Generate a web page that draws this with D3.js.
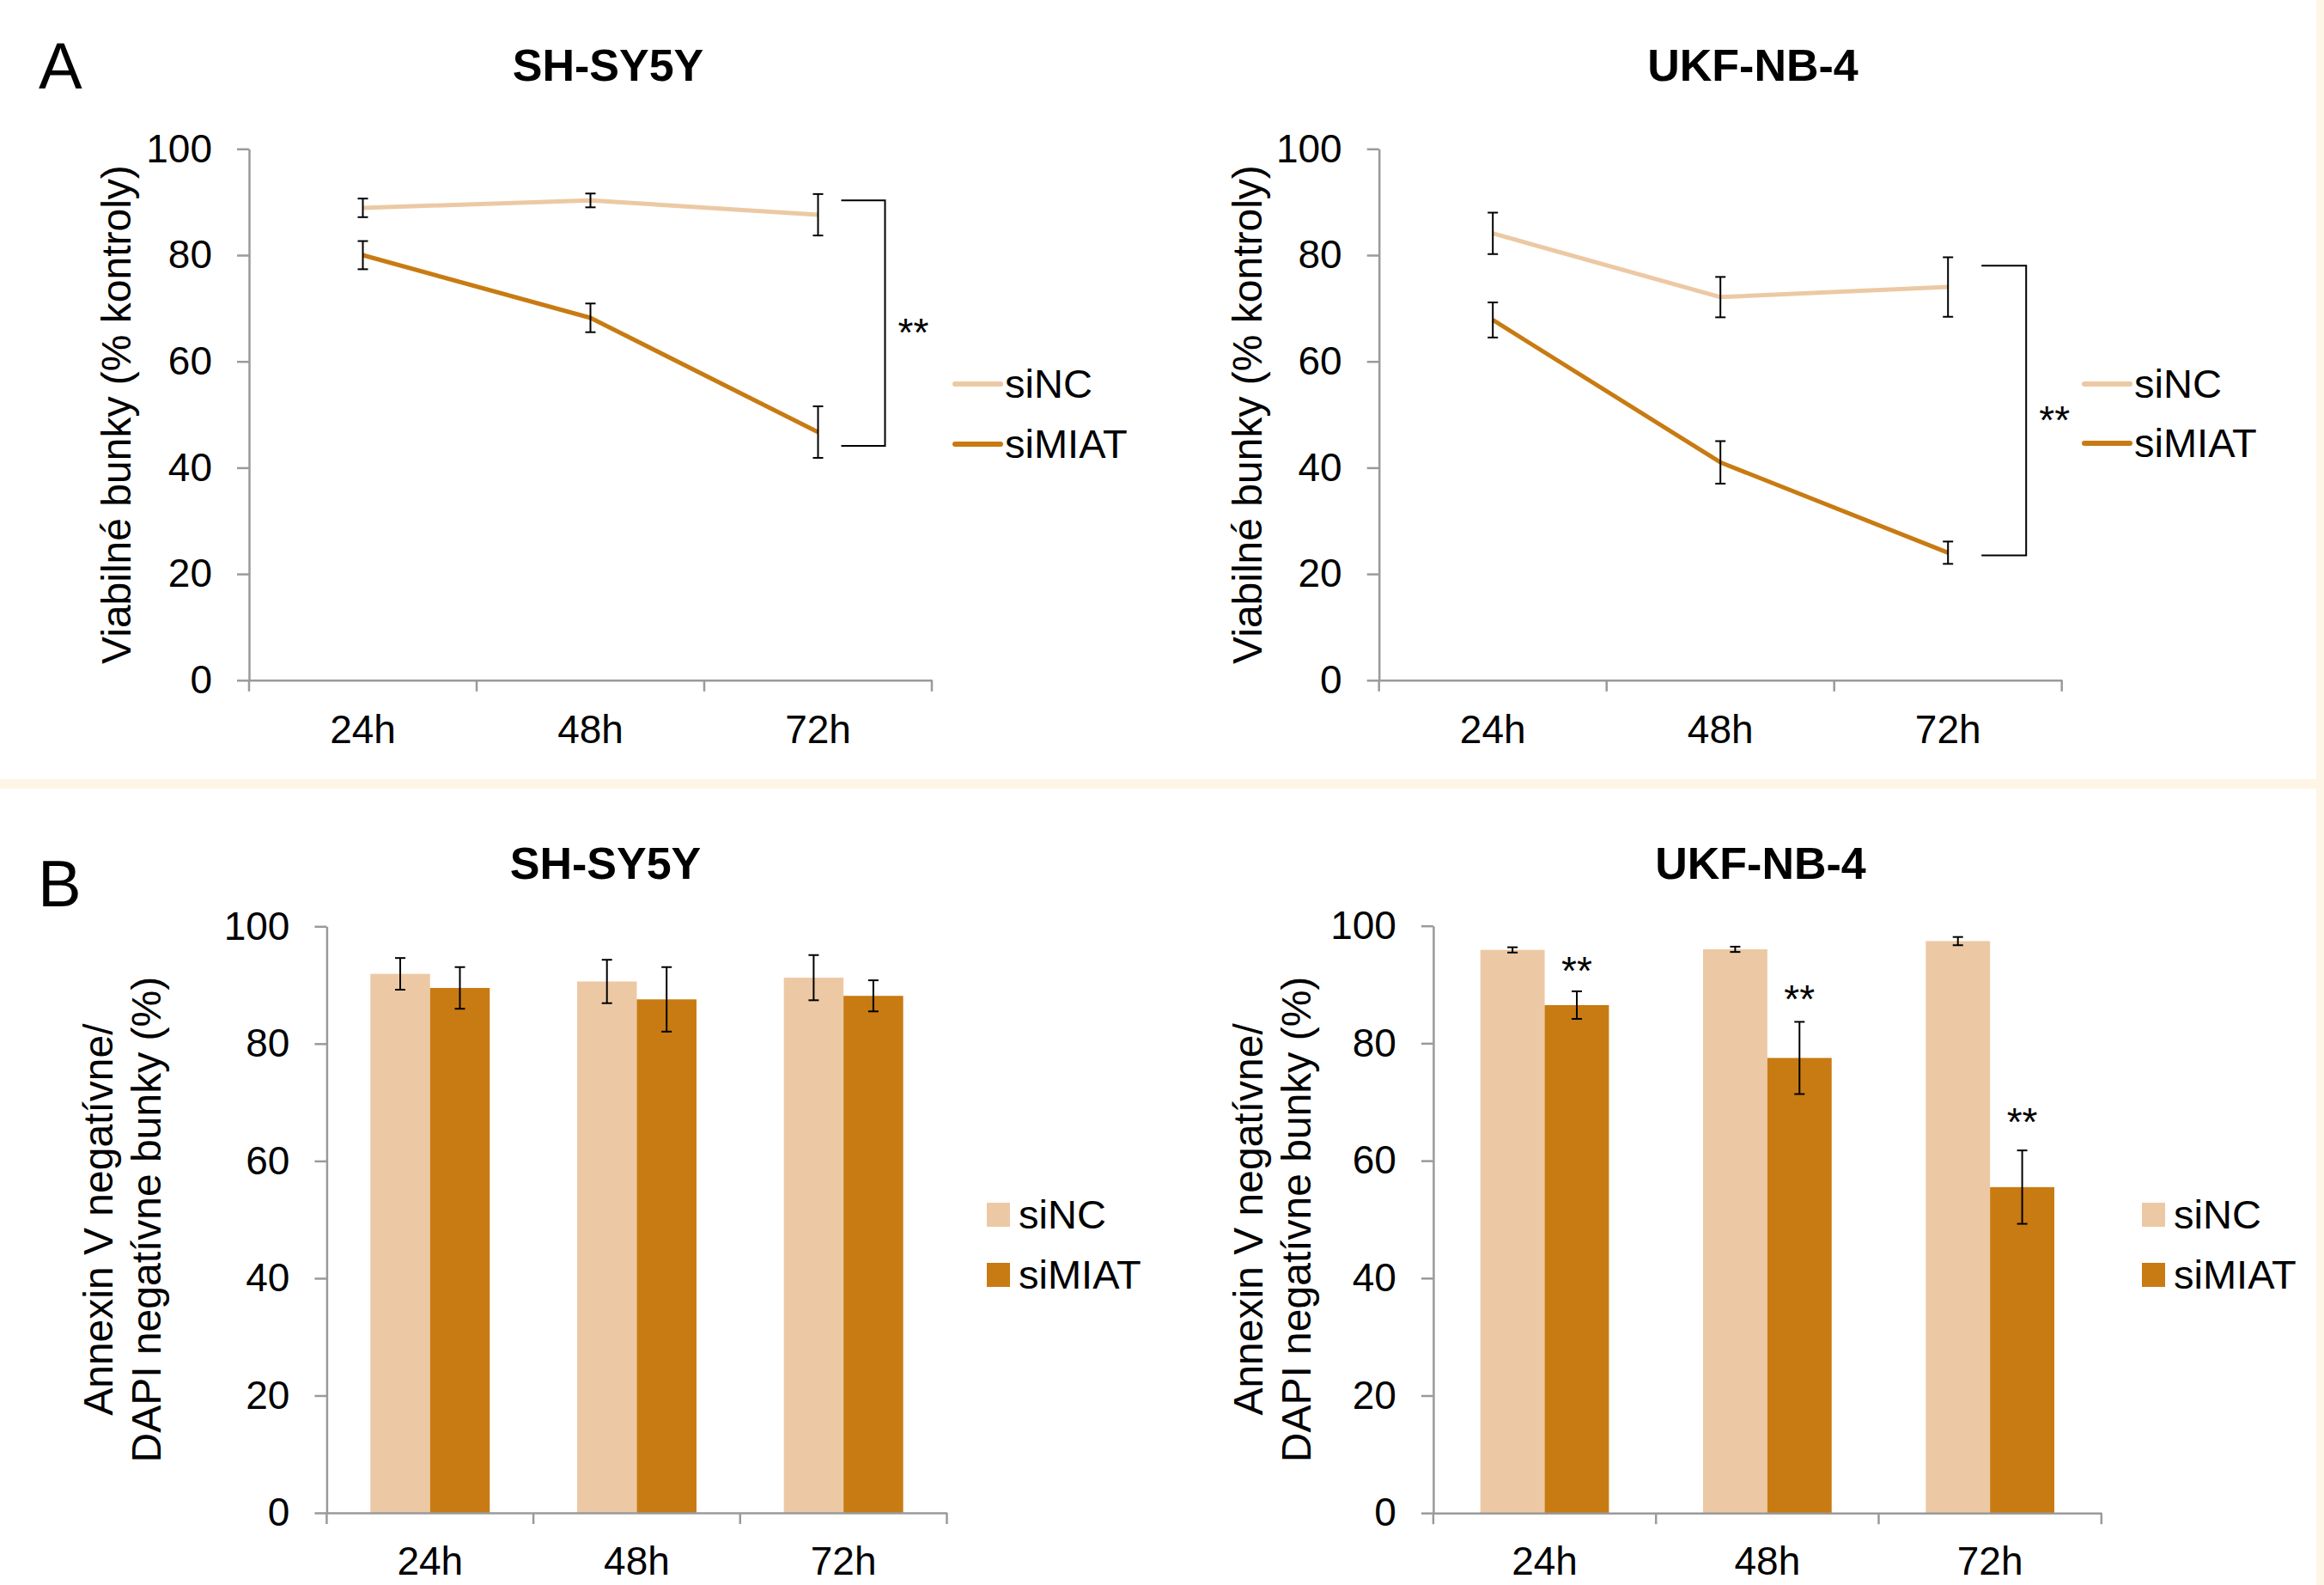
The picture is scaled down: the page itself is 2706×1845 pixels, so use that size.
<!DOCTYPE html>
<html lang="en">
<head>
<meta charset="utf-8">
<title>siMIAT viability</title>
<script src="https://cdn.jsdelivr.net/npm/d3@7"></script>
<style>
  body { margin: 0; background: #fff; }
  svg text { font-family: "Liberation Sans", Arial, sans-serif; fill: #000; }
</style>
</head>
<body>
<script>

// categories and series
var timePoints = ["24h", "48h", "72h"];
var seriesNames = ["siNC", "siMIAT"];
var yTicks = [0, 20, 40, 60, 80, 100];

// A - viability (% of control)
var viabShNC = [88.9, 90.3, 87.6];
var viabShNCErr = [1.75, 1.3, 3.9];
var viabShMIAT = [80.0, 68.2, 46.7];
var viabShMIATErr = [2.65, 2.7, 4.85];

var viabUkfNC = [84.1, 72.1, 74.0];
var viabUkfNCErr = [3.9, 3.8, 5.6];
var viabUkfMIAT = [67.8, 41.0, 24.0];
var viabUkfMIATErr = [3.3, 4.0, 2.1];

// significance brackets (top / bottom value)
var bracketSh = [90.3, 44.1];
var bracketUkf = [78.0, 23.5];

// B - Annexin V- / DAPI- cells (%)
var annShNC = [91.9, 90.6, 91.25];
var annShNCErr = [2.7, 3.7, 3.85];
var annShMIAT = [89.5, 87.55, 88.15];
var annShMIATErr = [3.55, 5.5, 2.65];

var annUkfNC = [95.9, 96.0, 97.4];
var annUkfNCErr = [0.45, 0.45, 0.7];
var annUkfMIAT = [86.5, 77.5, 55.5];
var annUkfMIATErr = [2.35, 6.15, 6.25];
var annUkfStars = [94.0, 89.2, 68.2];

var colors = { siNC: "#ecc9a4", siMIAT: "#c87b12" };
var axisGray = "#9a9a9a";

var w = 2706, h = 1845;

var svg = d3.select("body").append("svg")
  .attr("width", w)
  .attr("height", h);

svg.append("rect").attr("width", w).attr("height", h).attr("fill", "#fff");
// cream separators of the original figure
svg.append("rect").attr("x", 0).attr("y", 907).attr("width", w).attr("height", 11).attr("fill", "#fdf5e6");
svg.append("rect").attr("x", 2697).attr("y", 0).attr("width", 9).attr("height", h).attr("fill", "#fdf5e6");

// panel letters
svg.append("text").attr("x", 45).attr("y", 103).attr("font-size", "76px").text("A");
svg.append("text").attr("x", 44).attr("y", 1055).attr("font-size", "76px").text("B");

function drawAxes(p, y, x, labelPad) {
  var gy = svg.append("g")
    .attr("transform", "translate(" + p.x0 + ",0)")
    .call(d3.axisLeft(y).tickValues(yTicks).tickSize(14).tickPadding(29).tickSizeOuter(0));
  var gx = svg.append("g")
    .attr("transform", "translate(0," + p.yBottom + ")")
    .call(d3.axisBottom(x).tickSize(0).tickPadding(labelPad).tickSizeOuter(0));

  [gy, gx].forEach(function(g) {
    g.select(".domain").attr("stroke", axisGray).attr("stroke-width", 2.5);
    g.selectAll(".tick line").attr("stroke", axisGray).attr("stroke-width", 2.5);
    g.selectAll("text").attr("font-size", "46px").attr("font-family", null).attr("fill", "#000");
  });

  // category boundary ticks
  var bounds = timePoints.map(function(t) { return x(t); }).concat([x.range()[1]]);
  gx.selectAll(".bound").data(bounds).enter().append("line")
    .attr("x1", function(d) { return d; })
    .attr("x2", function(d) { return d; })
    .attr("y1", 0).attr("y2", 13)
    .attr("stroke", axisGray).attr("stroke-width", 2.5);

  // title
  svg.append("text")
    .attr("x", p.titleX).attr("y", p.titleY)
    .attr("text-anchor", "middle")
    .attr("font-size", "52px").attr("font-weight", "bold")
    .text(p.title);

  // y label
  var midY = (p.yTop + p.yBottom) / 2;
  p.yLabel.forEach(function(line, i) {
    svg.append("text")
      .attr("transform", "translate(" + p.yLabelX[i] + "," + midY + ") rotate(-90)")
      .attr("text-anchor", "middle")
      .attr("font-size", "48px")
      .text(line);
  });
}

function errBars(g, xs, vals, errs, y) {
  var sel = g.selectAll(null).data(vals).enter().append("g");
  sel.append("line")
    .attr("x1", function(d, i) { return xs[i]; })
    .attr("x2", function(d, i) { return xs[i]; })
    .attr("y1", function(d, i) { return y(d + errs[i]); })
    .attr("y2", function(d, i) { return y(d - errs[i]); });
  sel.append("line")
    .attr("x1", function(d, i) { return xs[i] - 6; })
    .attr("x2", function(d, i) { return xs[i] + 6; })
    .attr("y1", function(d, i) { return y(d + errs[i]); })
    .attr("y2", function(d, i) { return y(d + errs[i]); });
  sel.append("line")
    .attr("x1", function(d, i) { return xs[i] - 6; })
    .attr("x2", function(d, i) { return xs[i] + 6; })
    .attr("y1", function(d, i) { return y(d - errs[i]); })
    .attr("y2", function(d, i) { return y(d - errs[i]); });
  sel.selectAll("line").attr("stroke", "#000").attr("stroke-width", 2);
}

function drawLinePanel(p) {
  var y = d3.scaleLinear().domain([0, 100]).range([p.yBottom, p.yTop]);
  var x = d3.scaleBand().domain(timePoints).range([p.x0, p.x1]).padding(0);
  var cx = timePoints.map(function(t) { return x(t) + x.bandwidth() / 2; });

  drawAxes(p, y, x, 41);

  var line = d3.line()
    .x(function(d, i) { return cx[i]; })
    .y(function(d) { return y(d); });

  var g = svg.append("g");
  [[p.nc, "siNC"], [p.miat, "siMIAT"]].forEach(function(s) {
    g.append("path")
      .attr("d", line(s[0]))
      .attr("fill", "none")
      .attr("stroke", colors[s[1]])
      .attr("stroke-width", 5)
      .attr("stroke-linejoin", "round");
  });
  errBars(g, cx, p.nc, p.ncErr, y);
  errBars(g, cx, p.miat, p.miatErr, y);

  // bracket
  var bx0 = cx[2] + p.bracketDx[0], bx1 = cx[2] + p.bracketDx[1];
  var t = y(p.bracket[0]), b = y(p.bracket[1]);
  g.append("path")
    .attr("d", "M" + bx0 + "," + t + "H" + bx1 + "V" + b + "H" + bx0)
    .attr("fill", "none").attr("stroke", "#000").attr("stroke-width", 2);
  g.append("text")
    .attr("x", bx1 + 33).attr("y", (t + b) / 2 + 27)
    .attr("text-anchor", "middle").attr("font-size", "46px")
    .text("**");

  // legend
  var lg = svg.append("g");
  seriesNames.forEach(function(s, i) {
    var ly = p.legendY[i];
    lg.append("line")
      .attr("x1", p.legendX).attr("x2", p.legendX + 53)
      .attr("y1", ly).attr("y2", ly)
      .attr("stroke", colors[s]).attr("stroke-width", 6)
      .attr("stroke-linecap", "round");
    lg.append("text")
      .attr("x", p.legendX + 58).attr("y", ly + 16)
      .attr("font-size", "47px").text(s);
  });
}

function drawBarPanel(p) {
  var y = d3.scaleLinear().domain([0, 100]).range([p.yBottom, p.yTop]);
  var x = d3.scaleBand().domain(timePoints).range([p.x0, p.x1]).padding(0);
  var xs = d3.scaleBand().domain(seriesNames).range([0, x.bandwidth()])
    .paddingInner(0).paddingOuter(0.732);

  var g = svg.append("g");
  var data = [p.nc, p.miat];
  var errs = [p.ncErr, p.miatErr];
  seriesNames.forEach(function(s, k) {
    g.selectAll(null).data(data[k]).enter().append("rect")
      .attr("x", function(d, i) { return x(timePoints[i]) + xs(s); })
      .attr("y", function(d) { return y(d); })
      .attr("width", xs.bandwidth())
      .attr("height", function(d) { return y(0) - y(d); })
      .attr("fill", colors[s]);
  });

  drawAxes(p, y, x, 39);

  seriesNames.forEach(function(s, k) {
    var centers = timePoints.map(function(t) { return x(t) + xs(s) + xs.bandwidth() / 2; });
    errBars(g, centers, data[k], errs[k], y);
    if (k === 1 && p.stars) {
      g.selectAll(null).data(p.stars).enter().append("text")
        .attr("x", function(d, i) { return centers[i]; })
        .attr("y", function(d) { return y(d) + 27; })
        .attr("text-anchor", "middle").attr("font-size", "46px")
        .text("**");
    }
  });

  // legend
  var lg = svg.append("g");
  seriesNames.forEach(function(s, i) {
    var ly = p.legendY[i];
    lg.append("rect")
      .attr("x", p.legendX).attr("y", ly - 14)
      .attr("width", 27).attr("height", 28)
      .attr("fill", colors[s]);
    lg.append("text")
      .attr("x", p.legendX + 37).attr("y", ly + 16)
      .attr("font-size", "47px").text(s);
  });
}

drawLinePanel({
  title: "SH-SY5Y", titleX: 708, titleY: 94,
  x0: 290, x1: 1085, yTop: 173.3, yBottom: 791.8,
  nc: viabShNC, ncErr: viabShNCErr, miat: viabShMIAT, miatErr: viabShMIATErr,
  bracket: bracketSh, bracketDx: [27, 78],
  yLabel: ["Viabilné bunky (% kontroly)"], yLabelX: [152],
  legendX: 1112, legendY: [447, 517]
});

drawLinePanel({
  title: "UKF-NB-4", titleX: 2041, titleY: 94,
  x0: 1605.7, x1: 2400.7, yTop: 173.3, yBottom: 791.8,
  nc: viabUkfNC, ncErr: viabUkfNCErr, miat: viabUkfMIAT, miatErr: viabUkfMIATErr,
  bracket: bracketUkf, bracketDx: [39, 91],
  yLabel: ["Viabilné bunky (% kontroly)"], yLabelX: [1469],
  legendX: 2427, legendY: [447, 516]
});

drawBarPanel({
  title: "SH-SY5Y", titleX: 705, titleY: 1023,
  x0: 380.4, x1: 1102.5, yTop: 1078.3, yBottom: 1761,
  nc: annShNC, ncErr: annShNCErr, miat: annShMIAT, miatErr: annShMIATErr,
  yLabel: ["Annexin V negatívne/", "DAPI negatívne bunky (%)"], yLabelX: [131, 187],
  legendX: 1149, legendY: [1414, 1484]
});

drawBarPanel({
  title: "UKF-NB-4", titleX: 2050, titleY: 1023,
  x0: 1668.9, x1: 2446.8, yTop: 1077.7, yBottom: 1761.2,
  nc: annUkfNC, ncErr: annUkfNCErr, miat: annUkfMIAT, miatErr: annUkfMIATErr,
  stars: annUkfStars,
  yLabel: ["Annexin V negatívne/", "DAPI negatívne bunky (%)"], yLabelX: [1470, 1526],
  legendX: 2494, legendY: [1414, 1484]
});

</script>
</body>
</html>
